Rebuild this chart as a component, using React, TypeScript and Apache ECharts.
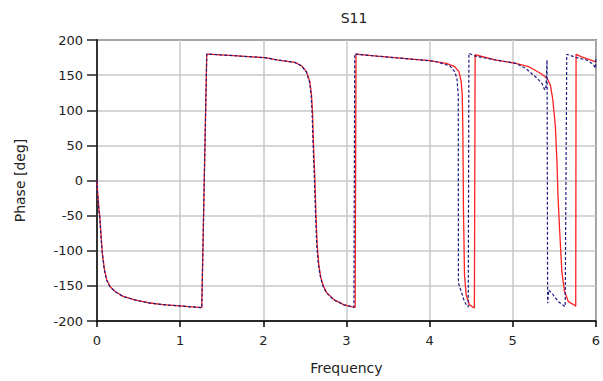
import React, { useEffect, useRef } from "react";
import * as echarts from "echarts";

const chartTitle = "S11";
const xAxisName = "Frequency";
const yAxisName = "Phase [deg]";

const freqRed = [
  0, 0.01, 0.026, 0.034, 0.05, 0.065, 0.09, 0.118, 0.158, 0.217, 0.316, 0.455, 0.614, 0.79, 0.99, 1.26,
  1.32, 1.6, 2.02, 2.18, 2.38, 2.46, 2.52, 2.56, 2.58, 2.592, 2.604, 2.62, 2.632, 2.648, 2.668, 2.692, 2.725, 2.765, 2.855, 2.972, 3.071, 3.105,
  3.115, 3.37, 4.0, 4.202, 4.302, 4.353, 4.38, 4.393, 4.4, 4.408, 4.42, 4.44, 4.48, 4.539,
  4.548, 4.8, 5.036, 5.194, 5.333, 5.413, 5.452, 5.48, 5.512, 5.532, 5.544, 5.563, 5.591, 5.623, 5.67, 5.75, 5.758,
  5.762, 5.83, 6.0,
];
const phaseRed = [
  0, -20, -44, -51, -80, -103.6, -127, -141.6, -151, -158, -165, -170, -174, -176.7, -178.5, -181,
  180, 178, 174.8, 171.5, 168.2, 163.4, 154.9, 140.6, 121.7, 97.9, 50.5, 3.1, -44, -91.8, -120, -138, -151, -160, -170, -177, -179.8, -180.5,
  180, 177, 170.5, 166.8, 162, 155, 140.6, 121.7, 74, -44, -134.5, -163, -177, -181.5,
  179, 171.5, 166.8, 162, 152.6, 145.6, 136, 117, 79, 26.8, -20.6, -68, -129.8, -158, -172.5, -178, -179,
  179.6, 176, 169,
];

const freqBlue = [
  0, 0.004, 0.024, 0.032, 0.048, 0.063, 0.087, 0.115, 0.155, 0.214, 0.313, 0.452, 0.611, 0.79, 0.99, 1.26,
  1.32, 1.6, 2.02, 2.179, 2.377, 2.456, 2.516, 2.556, 2.575, 2.587, 2.599, 2.615, 2.627, 2.643, 2.663, 2.688, 2.72, 2.76, 2.85, 2.97, 3.07, 3.09,
  3.1, 3.37, 4.0, 4.083, 4.242, 4.302, 4.329, 4.345, 4.347, 4.38, 4.42, 4.448, 4.465,
  4.473, 4.55, 4.8, 5.036, 5.155, 5.274, 5.353, 5.385, 5.401, 5.413, 5.42, 5.432, 5.472, 5.55, 5.631,
  5.65, 5.77, 5.889, 5.968, 5.996, 6.0,
];
const phaseBlue = [
  0, -15, -44, -51.5, -80, -103.6, -127, -141.6, -151, -158, -165, -170, -174, -176.7, -178.5, -181,
  180, 178, 174.8, 171.5, 168.2, 163.4, 154.9, 140.6, 121.7, 97.9, 50.5, 3.1, -44, -91.8, -120, -138, -151, -160, -170, -177, -179.8, -180.5,
  180, 177, 170.5, 169, 163.4, 155, 145.6, 121.7, -146, -158, -172.5, -178, -180,
  181, 177, 171.5, 166.8, 159.7, 147.7, 138, 128.8, 133.5, 171.5, -174.8, -156, -160.6, -172.5, -179.6,
  179.6, 174.8, 171.5, 165.4, 159.7, 176,
];

const zip = (xs: number[], ys: number[]) => xs.map((x, i) => [x, ys[i]]);

const FONT = "DejaVu Sans";

export default function App() {
  const ref = useRef<HTMLDivElement>(null);
  useEffect(() => {
    if (!ref.current) return;
    const chart = echarts.init(ref.current, null, { renderer: "svg" });
    chart.setOption({
      animation: false,
      backgroundColor: "#ffffff",
      title: {
        text: chartTitle,
        left: 349,
        textAlign: "center",
        top: 6,
        textStyle: { fontFamily: FONT, fontSize: 14, fontWeight: "normal", color: "#222" },
      },
      grid: {
        left: 97,
        right: 2,
        top: 40,
        bottom: 60,
        show: true,
        borderColor: "#000",
        borderWidth: 1.5,
        backgroundColor: "transparent",
      },
      xAxis: {
        type: "value",
        min: 0,
        max: 6,
        interval: 1,
        name: xAxisName,
        nameLocation: "middle",
        nameGap: 40,
        nameTextStyle: { fontFamily: FONT, fontSize: 14, color: "#222" },
        axisLine: { show: true, onZero: false, lineStyle: { color: "#000", width: 1.5 } },
        axisTick: { show: true, inside: false, length: 6, lineStyle: { color: "#000", width: 1.5 } },
        axisLabel: { fontFamily: FONT, fontSize: 13, color: "#222", margin: 13 },
        splitLine: { show: true, lineStyle: { color: "#c8c8c8", width: 1.5 } },
      },
      yAxis: {
        type: "value",
        min: -200,
        max: 200,
        interval: 50,
        name: yAxisName,
        nameLocation: "middle",
        nameGap: 70,
        nameRotate: 90,
        nameTextStyle: { fontFamily: FONT, fontSize: 14, color: "#222" },
        axisLine: { show: true, onZero: false, lineStyle: { color: "#333", width: 2 } },
        axisTick: { show: true, inside: false, length: 10, lineStyle: { color: "#222", width: 1.5 } },
        axisLabel: { fontFamily: FONT, fontSize: 13, color: "#222", margin: 14 },
        splitLine: { show: true, lineStyle: { color: "#c8c8c8", width: 1.5 } },
      },
      series: [
        {
          name: "red",
          type: "line",
          data: zip(freqRed, phaseRed),
          showSymbol: false,
          symbol: "none",
          lineStyle: { color: "#ff2020", width: 1.3 },
          clip: true,
          z: 2,
        },
        {
          name: "blue",
          type: "line",
          data: zip(freqBlue, phaseBlue),
          showSymbol: false,
          symbol: "none",
          lineStyle: { color: "#1a1a80", width: 1.2, type: [3, 2] },
          clip: true,
          z: 3,
        },
      ],
    });
    return () => chart.dispose();
  }, []);
  return <div ref={ref} style={{ width: 603, height: 381, position: "absolute", left: 0, top: 0 }} />;
}
